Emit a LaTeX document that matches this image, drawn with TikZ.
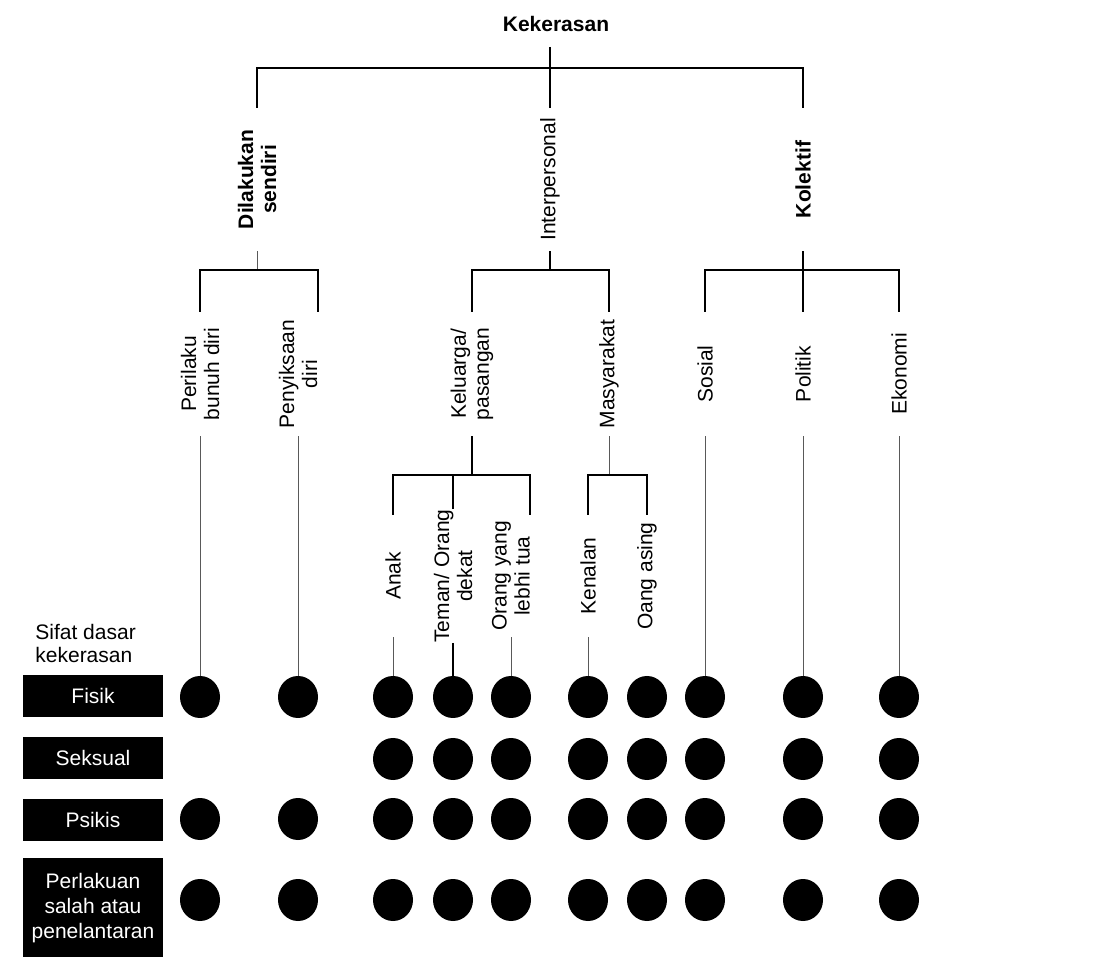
\documentclass[tikz,border=0pt]{standalone}
\usepackage{fontspec}
\setmainfont{Liberation Sans}
\usetikzlibrary{shapes.geometric}

\begin{document}
\begin{tikzpicture}[x=0.5pt,y=-0.5pt,
    tree/.style={line width=0.7pt},
    leg/.style={black!65,line width=0.5pt},
    lab/.style={rotate=90,inner sep=0pt,align=center,font=\fontsize{10.5}{11.5}\selectfont},
    lvlone/.style={lab,minimum width=71.5pt},
    lvltwo/.style={lab,minimum width=62pt},
    lvlthree/.style={lab,minimum width=61pt},
    dot/.style={ellipse,fill=black,inner sep=0pt,minimum width=20pt,minimum height=21pt},
    catbox/.style={fill=black,text=white,minimum width=70pt,minimum height=21pt,inner sep=0pt,
      align=center,font=\fontsize{10.5}{12.5}\selectfont}]
  \useasboundingbox (0,0) rectangle (1105,957);
  \coordinate (bar1) at (0,68);
  \coordinate (bar2) at (0,270);
  \coordinate (bar3) at (0,475);

  \node[font=\fontsize{10.5}{12}\selectfont\bfseries,inner sep=0pt,text depth=7.5pt,anchor=south] (kek) at (556,47) {Kekerasan};

  % first level
  \node[lvlone,font=\fontsize{10.5}{11.5}\selectfont\bfseries] (dil) at (257,179.5) {Dilakukan\\sendiri};
  \node[lvlone] (int) at (550,179.5) {Interpersonal};
  \node[lvlone,font=\fontsize{10.5}{11.5}\selectfont\bfseries] (kol) at (803,179.5) {Kolektif};

  % second level
  \node[lvltwo] (per) at (200,374) {Perilaku\\bunuh diri};
  \node[lvltwo] (pen) at (298,374) {Penyiksaan\\diri};
  \node[lvltwo] (kel) at (472,374) {Keluarga/\\pasangan};
  \node[lvltwo] (mas) at (609,374) {Masyarakat};
  \node[lvltwo] (sos) at (705,374) {Sosial};
  \node[lvltwo] (pol) at (803,374) {Politik};
  \node[lvltwo] (eko) at (899,374) {Ekonomi};

  % third level
  \node[lvlthree] (anak) at (393,576) {Anak};
  \node[lvlthree] (tem) at (453,576) {Teman/ Orang\\dekat};
  \node[lvlthree] (ora) at (511,576) {Orang yang\\lebhi tua};
  \node[lvlthree] (ken) at (588,576) {Kenalan};
  \node[lvlthree] (oan) at (647,576) {Oang asing};

  \draw[tree] (kek.south -| int.east) -- (int.east);
  \draw[tree] (dil.east) |- (kol.east |- bar1) -- (kol.east);

  \draw[leg] (dil.west) -- (dil.west |- bar2);
  \draw[tree] (per.east) |- (dil.west |- bar2) -| ([xshift=10pt]pen.east);
  \draw[tree] (int.west) -- (int.west |- bar2);
  \draw[tree] (kel.east) |- (int.west |- bar2) -| (mas.east);
  \draw[tree] (kol.west) -- (pol.east);
  \draw[tree] (sos.east) |- (eko.east |- bar2) -- (eko.east);

  \draw[tree] (kel.west) -- (kel.west |- bar3);
  \draw[tree] (anak.east) |- (kel.west |- bar3) -| ([xshift=9.5pt]ora.east);
  \draw[tree] (tem.east) -- (tem.east |- bar3);
  \draw[leg] (mas.west) -- (mas.west |- bar3);
  \draw[tree] (ken.east) |- (mas.west |- bar3) -| (oan.east);

  % sifat dasar kekerasan
  \node[anchor=west,align=left,inner sep=0pt,font=\fontsize{10.5}{11.5}\selectfont] (sif) at (35,643) {Sifat dasar\\kekerasan};
  \node[catbox] (fis) at (93,696) {Fisik};
  \node[catbox] (sek) at (93,758) {Seksual};
  \node[catbox] (psi) at (93,819.5) {Psikis};
  \node[catbox,minimum height=49.5pt,anchor=north] (pls) at (93,858) {Perlakuan\\salah atau\\penelantaran};

  \foreach \c/\x in {1/200,2/298,3/393,4/453,5/511,6/588,7/647,8/705,9/803,10/899}
    \foreach \r/\y in {1/697,3/819,4/900}
      \node[dot] (d\r-\c) at (\x,\y) {};
  \foreach \c/\x in {3/393,4/453,5/511,6/588,7/647,8/705,9/803,10/899}
    \node[dot] (d2-\c) at (\x,759) {};

  \foreach \n/\c in {per/1,pen/2,anak/3,ora/5,ken/6,sos/8,pol/9,eko/10}
    \draw[leg] (\n.west) -- (d1-\c.north);
  \draw[line width=1pt] (tem.west) -- (d1-4.north);
\end{tikzpicture}
\end{document}
